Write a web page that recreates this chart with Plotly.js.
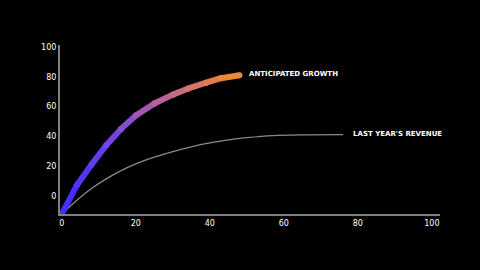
<!DOCTYPE html>
<html>
<head>
<meta charset="utf-8">
<script src="https://cdn.plot.ly/plotly-3.0.1.min.js"></script>
<style>html,body{margin:0;padding:0;background:#000;}#chart{width:480px;height:270px;}</style>
</head>
<body>
<div id="chart"></div>
<script>
// Anticipated growth (thick gradient curve)
var growthX = [0, 4, 8, 12, 16, 20, 25, 30, 34, 39, 43, 48];
var growthY = [-12, 7, 21, 34, 45, 54, 62, 68, 72, 76, 79, 81];
// Last year's revenue (thin gray curve)
var revenueX = [0, 4, 8, 12, 16, 20, 25, 30, 35, 40, 45, 50, 57, 66, 76];
var revenueY = [-12, -3, 5, 11.5, 17, 21.5, 26, 29.8, 33, 35.6, 37.6, 39.1, 40.5, 41, 41.1];
var xTicks = [0, 20, 40, 60, 80, 100];
var yTicks = [0, 20, 40, 60, 80, 100];
var growthLabel = "ANTICIPATED GROWTH";
var revenueLabel = "LAST YEAR'S REVENUE";

var stops = [[0, [58, 44, 255]], [0.35, [120, 70, 225]], [0.6, [185, 100, 150]], [1, [245, 140, 40]]];
function gradColor(t) {
  for (var i = 0; i < stops.length - 1; i++) {
    var a = stops[i], b = stops[i + 1];
    if (t >= a[0] && t <= b[0]) {
      var f = (t - a[0]) / (b[0] - a[0]);
      var c = a[1].map(function (v, k) { return Math.round(v + (b[1][k] - v) * f); });
      return 'rgb(' + c.join(',') + ')';
    }
  }
  return 'rgb(' + stops[stops.length - 1][1].join(',') + ')';
}

var traces = [{
  x: revenueX, y: revenueY, mode: 'lines', type: 'scatter',
  line: {color: '#8a8a8a', width: 1.3, shape: 'spline', smoothing: 1},
  hoverinfo: 'skip'
}];
var n = growthX.length;
for (var i = 0; i < n - 1; i++) {
  var col = gradColor((i + 0.5) / (n - 1));
  traces.push({
    x: [growthX[i], growthX[i + 1]], y: [growthY[i], growthY[i + 1]],
    mode: 'lines+markers', type: 'scatter',
    line: {color: col, width: 6},
    marker: {color: col, size: 6, line: {width: 0}},
    hoverinfo: 'skip'
  });
}

var tickFont = {family: 'DejaVu Sans', size: 8, color: '#ffffff'};
var layout = {
  width: 480, height: 270,
  paper_bgcolor: '#000', plot_bgcolor: '#000',
  showlegend: false,
  margin: {l: 60, r: 40, t: 45, b: 56},
  xaxis: {
    range: [-0.5, 102.2], tickvals: xTicks, ticktext: xTicks.map(String),
    showgrid: false, zeroline: false, showline: true, linecolor: '#808080', linewidth: 2,
    ticks: '', ticklen: 0, tickfont: tickFont, fixedrange: true
  },
  yaxis: {
    range: [-12.1, 101.3], tickvals: yTicks, ticktext: yTicks.map(String),
    showgrid: false, zeroline: false, showline: true, linecolor: '#808080', linewidth: 2,
    ticks: '', ticklen: 0, tickfont: tickFont, fixedrange: true
  },
  annotations: [
    {x: growthX[n - 1], y: growthY[n - 1], xref: 'x', yref: 'y', text: growthLabel,
     showarrow: false, xanchor: 'left', xshift: 8, yshift: 1,
     font: {family: 'DejaVu Sans', size: 7, color: '#fff', weight: 'bold'}},
    {x: revenueX[revenueX.length - 1], y: revenueY[revenueY.length - 1], xref: 'x', yref: 'y', text: revenueLabel,
     showarrow: false, xanchor: 'left', xshift: 8, yshift: 1,
     font: {family: 'DejaVu Sans', size: 7, color: '#fff', weight: 'bold'}}
  ]
};
Plotly.newPlot('chart', traces, layout, {displayModeBar: false, staticPlot: true});
</script>
</body>
</html>
